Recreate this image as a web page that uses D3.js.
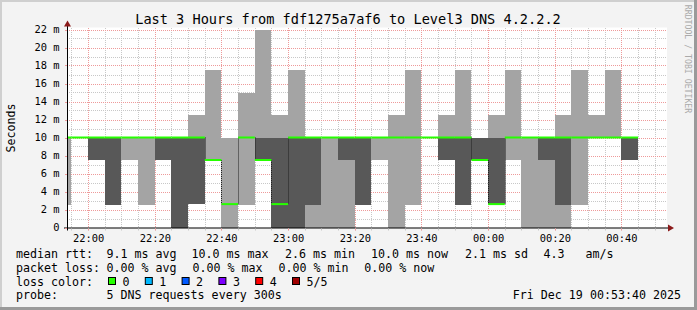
<!DOCTYPE html>
<html>
<head>
<meta charset="utf-8">
<script src="https://cdn.jsdelivr.net/npm/d3@7"></script>
<style>
  body { margin: 0; background: #f3f3f3; }
  text { font-family: "DejaVu Sans Mono", monospace; fill: #000; }
</style>
</head>
<body>
<div id="chart"></div>
<script>
// end time of each 5 minute step (Dec 18 -> Dec 19)
var stepEnds = ["21:55","22:00","22:05","22:10","22:15","22:20","22:25","22:30","22:35","22:40",
                "22:45","22:50","22:55","23:00","23:05","23:10","23:15","23:20","23:25","23:30",
                "23:35","23:40","23:45","23:50","23:55","00:00","00:05","00:10","00:15","00:20",
                "00:25","00:30","00:35","00:40","00:45"];
// the 5 sorted ping times per step, in ms (ping3 is the median)
var ping1 = [2.5,10,7.5,2.5,7.5,2.5,7.5,0,2.6,7.5,0,2.5,7.5,0,0,0,0,0,2.5,7.5,0,2.5,10,7.5,2.5,7.5,2.6,7.5,0,0,0,2.5,10,10,7.5];
var ping2 = [10,10,7.5,2.5,10,10,7.5,0,2.6,7.5,2.6,10,7.5,0,0,2.5,10,7.5,2.5,10,10,10,10,7.5,2.5,7.5,2.6,10,10,7.5,2.5,10,10,10,7.5];
var ping3 = [10,10,10,10,10,10,10,10,10,7.5,2.6,10,7.5,2.6,10,10,10,10,10,10,10,10,10,10,10,7.5,2.6,10,10,10,10,10,10,10,10];
var ping4 = [10,10,10,10,10,10,10,10,10,7.5,2.6,10,10,10,10,10,10,10,10,10,10,10,10,10,10,10,10,10,10,10,10,10,10,10,10];
var ping5 = [10,10,10,10,10,10,10,10,12.5,17.5,10,15,22,12.5,17.5,10,10,10,10,10,12.5,17.5,10,12.5,17.5,10,12.5,17.5,10,10,12.5,17.5,12.5,17.5,10];
var lossOfStep = 0;

var yTicks = [0,2,4,6,8,10,12,14,16,18,20,22];
var lossLabels = ["0","1","2","3","4","5/5"];
var lossColors = ["#26ff00","#00b8ff","#0059ff","#7e00ff","#ff0000","#a00000"];

var titleText = "Last 3 Hours from fdf1275a7af6 to Level3 DNS 4.2.2.2";
var rttLegend = [["median rtt:",16],["9.1 ms avg",106.5],["10.0 ms max",191.5],["2.6 ms min",285],
                 ["10.0 ms now",371],["2.1 ms sd",465],["4.3   am/s",543.5]];
var lossLegend = [["packet loss:",16],["0.00 % avg",106.5],["0.00 % max",192.5],["0.00 % min",278.5],["0.00 % now",364.3]];
var probeText = "5 DNS requests every 300s";
var stampText = "Fri Dec 19 00:53:40 2025";

function toDate(hm) {
  var p = hm.split(":"), h = +p[0], day = h < 12 ? 19 : 18;
  return new Date(Date.UTC(2025, 11, day, h, +p[1], 0));
}

var W = 697, H = 310;
var plot = {left: 67, right: 667, top: 27.5, bottom: 227.5};

var svg = d3.select("#chart").append("svg")
    .attr("width", W).attr("height", H);

// background and frame
svg.append("rect").attr("width", W).attr("height", H).attr("fill", "#f3f3f3");
svg.append("path").attr("d", "M0,1H696M1,0V309").attr("stroke", "#cfcfcf").attr("stroke-width", 2);
svg.append("path").attr("d", "M0,308.5H697M695.5,0V310").attr("stroke", "#9a9a9a").attr("stroke-width", 3);

svg.append("rect")
    .attr("x", plot.left).attr("y", plot.top)
    .attr("width", plot.right - plot.left).attr("height", plot.bottom - plot.top)
    .attr("fill", "#fff");

var xScale = d3.scaleUtc()
    .domain([new Date(Date.UTC(2025,11,18,21,53,40)), new Date(Date.UTC(2025,11,19,0,53,40))])
    .range([plot.left, plot.right]);
var yScale = d3.scaleLinear()
    .domain([0, (plot.bottom - plot.top) / 9])
    .range([plot.bottom, plot.top]);

// grid
var grid = svg.append("g").attr("stroke-dasharray", "1,1").attr("shape-rendering", "crispEdges");
var minorY = d3.range(1, 23, 2);
grid.selectAll("line.ymin").data(minorY).enter().append("line")
    .attr("x1", plot.left).attr("x2", plot.right)
    .attr("y1", function (d) { return Math.round(yScale(d)) + 0.5; })
    .attr("y2", function (d) { return Math.round(yScale(d)) + 0.5; })
    .attr("stroke", "#c8c8c8");
var minorX = xScale.ticks(d3.utcMinute.every(5));
grid.selectAll("line.xmin").data(minorX).enter().append("line")
    .attr("x1", function (d) { return Math.round(xScale(d)) + 0.5; })
    .attr("x2", function (d) { return Math.round(xScale(d)) + 0.5; })
    .attr("y1", plot.top).attr("y2", plot.bottom)
    .attr("stroke", "#c8c8c8");
grid.selectAll("line.ymaj").data(yTicks.slice(1)).enter().append("line")
    .attr("x1", plot.left).attr("x2", plot.right)
    .attr("y1", function (d) { return Math.round(yScale(d)) + 0.5; })
    .attr("y2", function (d) { return Math.round(yScale(d)) + 0.5; })
    .attr("stroke", "#ee9a9a");
var majorX = xScale.ticks(d3.utcMinute.every(20));
grid.selectAll("line.xmaj").data(majorX).enter().append("line")
    .attr("x1", function (d) { return Math.round(xScale(d)) + 0.5; })
    .attr("x2", function (d) { return Math.round(xScale(d)) + 0.5; })
    .attr("y1", plot.top).attr("y2", plot.bottom)
    .attr("stroke", "#ee9a9a");

// smoke
var steps = stepEnds.map(function (t, i) {
  var end = toDate(t);
  var start = new Date(Math.max(+end - 300000, +xScale.domain()[0]));
  return {start: start, end: end, p: [ping1[i], ping2[i], ping3[i], ping4[i], ping5[i]]};
});

var smoke = svg.append("g").attr("shape-rendering", "crispEdges");
smoke.selectAll("rect.outer").data(steps).enter().append("rect")
    .attr("x", function (d) { return xScale(d.start); })
    .attr("width", function (d) { return xScale(d.end) - xScale(d.start); })
    .attr("y", function (d) { return yScale(d.p[4]); })
    .attr("height", function (d) { return yScale(d.p[0]) - yScale(d.p[4]); })
    .attr("fill", "#a4a4a4");
smoke.selectAll("rect.inner").data(steps).enter().append("rect")
    .attr("x", function (d) { return xScale(d.start); })
    .attr("width", function (d) { return xScale(d.end) - xScale(d.start); })
    .attr("y", function (d) { return yScale(d.p[3]); })
    .attr("height", function (d) { return yScale(d.p[1]) - yScale(d.p[3]); })
    .attr("fill", "#585858");

// median: dark step connectors, then loss coloured segments
var joins = steps.slice(1).filter(function (d, i) { return d.p[2] !== steps[i].p[2]; });
svg.append("g").selectAll("line").data(joins).enter().append("line")
    .attr("x1", function (d) { return Math.round(xScale(d.start)) + 0.5; })
    .attr("x2", function (d) { return Math.round(xScale(d.start)) + 0.5; })
    .attr("y1", function (d, i) {
      var prev = steps[steps.indexOf(d) - 1];
      return yScale(Math.max(prev.p[2], d.p[2]));
    })
    .attr("y2", function (d) {
      var prev = steps[steps.indexOf(d) - 1];
      return yScale(Math.min(prev.p[2], d.p[2]));
    })
    .attr("stroke", "#202020").attr("stroke-dasharray", "1,1");

svg.append("g").selectAll("line").data(steps).enter().append("line")
    .attr("x1", function (d) { return xScale(d.start); })
    .attr("x2", function (d) { return xScale(d.end); })
    .attr("y1", function (d) { return yScale(d.p[2]); })
    .attr("y2", function (d) { return yScale(d.p[2]); })
    .attr("stroke", lossColors[lossOfStep]).attr("stroke-width", 2);

// axes
var axisColor = "#000";
svg.append("line").attr("x1", plot.left - 3).attr("x2", plot.right + 3)
    .attr("y1", plot.bottom + 0.5).attr("y2", plot.bottom + 0.5).attr("stroke", axisColor);
svg.append("line").attr("x1", plot.left + 0.5).attr("x2", plot.left + 0.5)
    .attr("y1", plot.bottom + 3).attr("y2", plot.top - 3).attr("stroke", axisColor);
svg.append("path").attr("d", "M" + (plot.right + 7) + "," + (plot.bottom + 0.5) + "l-6,-3.5v7z").attr("fill", "#8b1a1a");
svg.append("path").attr("d", "M" + (plot.left + 0.5) + "," + (plot.top - 7) + "l-3.5,6h7z").attr("fill", "#8b1a1a");

// ticks
svg.append("g").selectAll("line").data(minorX).enter().append("line")
    .attr("x1", function (d) { return Math.round(xScale(d)) + 0.5; })
    .attr("x2", function (d) { return Math.round(xScale(d)) + 0.5; })
    .attr("y1", plot.bottom + 1).attr("y2", plot.bottom + 3).attr("stroke", "#c8c8c8");
svg.append("g").selectAll("line").data(majorX).enter().append("line")
    .attr("x1", function (d) { return Math.round(xScale(d)) + 0.5; })
    .attr("x2", function (d) { return Math.round(xScale(d)) + 0.5; })
    .attr("y1", plot.bottom + 1).attr("y2", plot.bottom + 3).attr("stroke", "#ee9a9a");
svg.append("g").selectAll("line").data(yTicks).enter().append("line")
    .attr("x1", plot.left - 2).attr("x2", plot.left)
    .attr("y1", function (d) { return Math.round(yScale(d)) + 0.5; })
    .attr("y2", function (d) { return Math.round(yScale(d)) + 0.5; })
    .attr("stroke", "#ee9a9a");

// tick labels
svg.append("g").selectAll("text").data(yTicks).enter().append("text")
    .attr("x", 59.5).attr("y", function (d) { return yScale(d) + 3.8; })
    .attr("text-anchor", "end").style("font-size", "10.4px")
    .text(function (d) { return d === 0 ? "0" : d + " m"; });
svg.append("g").selectAll("text").data(majorX).enter().append("text")
    .attr("x", function (d) { return xScale(d) + 0.5; }).attr("y", 241.5)
    .attr("text-anchor", "middle").style("font-size", "10.4px")
    .text(d3.utcFormat("%H:%M"));

// title, axis title, watermark
svg.append("text").attr("x", 348).attr("y", 23.5).attr("text-anchor", "middle")
    .style("font-size", "13.6px").text(titleText);
svg.append("text").attr("transform", "translate(15,128) rotate(-90)")
    .attr("text-anchor", "middle").style("font-size", "11.6px").text("Seconds");
svg.append("text").attr("transform", "translate(685,59) rotate(90)")
    .attr("text-anchor", "middle").style("font-size", "8.2px").style("fill", "#aaaaaa")
    .text("RRDTOOL / TOBI OETIKER");

// legend
var legend = svg.append("g").style("font-size", "11.65px");
legend.selectAll("text.rtt").data(rttLegend).enter().append("text")
    .attr("x", function (d) { return d[1]; }).attr("y", 258.3)
    .attr("xml:space", "preserve").style("white-space", "pre")
    .text(function (d) { return d[0]; });
legend.selectAll("text.loss").data(lossLegend).enter().append("text")
    .attr("x", function (d) { return d[1]; }).attr("y", 271.8)
    .text(function (d) { return d[0]; });
legend.append("text").attr("x", 16).attr("y", 285.6).text("loss color:");
var sw = legend.selectAll("g.sw").data(lossLabels).enter().append("g")
    .attr("transform", function (d, i) { return "translate(" + (108 + i * 36.8) + ",0)"; });
sw.append("rect").attr("x", 0.5).attr("y", 277.5).attr("width", 7).attr("height", 7)
    .attr("fill", function (d, i) { return lossColors[i]; }).attr("stroke", "#000");
sw.append("text").attr("x", 14.5).attr("y", 285.6).text(function (d) { return d; });
legend.append("text").attr("x", 16).attr("y", 299.2).text("probe:");
legend.append("text").attr("x", 106.5).attr("y", 299.2).text(probeText);
legend.append("text").attr("x", 681).attr("y", 299.2).attr("text-anchor", "end").text(stampText);
</script>
</body>
</html>
